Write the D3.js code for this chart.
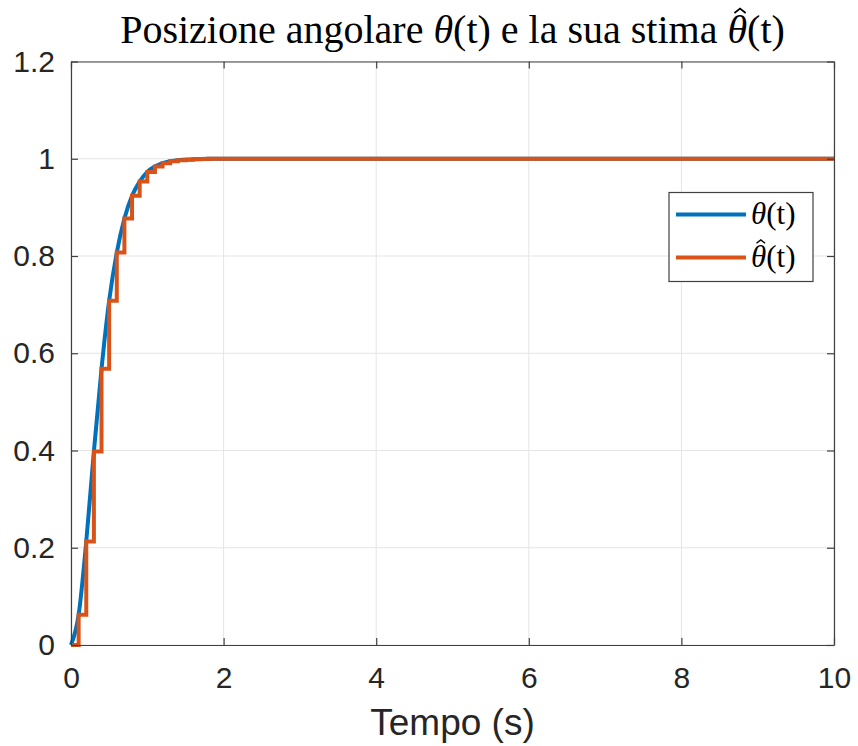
<!DOCTYPE html>
<html>
<head>
<meta charset="utf-8">
<script src="https://cdn.jsdelivr.net/npm/d3@7"></script>
<style>
  html, body { margin: 0; padding: 0; background: #fff; }
  svg { display: block; }
</style>
</head>
<body>
<svg id="chart" width="858" height="746"></svg>
<script>
// ---- data ----
const xTicks = [0, 2, 4, 6, 8, 10];
const yTicks = [0, 0.2, 0.4, 0.6, 0.8, 1, 1.2];
const xTickLabels = ["0", "2", "4", "6", "8", "10"];
const yTickLabels = ["0", "0.2", "0.4", "0.6", "0.8", "1", "1.2"];

// continuous angular position theta(t)
const thetaTime  = [0, 0.1, 0.2, 0.3, 0.4, 0.5, 0.6, 0.7, 0.8, 0.9, 1.0, 1.1, 1.2, 1.3, 1.4, 1.5, 1.6, 1.8, 2.0, 4, 6, 8, 10];
const thetaValue = [0, 0.062, 0.213, 0.398, 0.568, 0.708, 0.807, 0.877, 0.924, 0.953, 0.973, 0.984, 0.991, 0.995, 0.997, 0.998, 0.999, 1.0, 1.0, 1.0, 1.0, 1.0, 1.0];

// sampled estimate theta_hat(t) (zero-order hold, 0.1 s)
const hatTime  = [0, 0.1, 0.2, 0.3, 0.4, 0.5, 0.6, 0.7, 0.8, 0.9, 1.0, 1.1, 1.2, 1.3, 1.4, 1.5, 1.6, 1.7, 1.8, 10];
const hatValue = [0, 0.062, 0.213, 0.398, 0.568, 0.708, 0.807, 0.877, 0.924, 0.953, 0.973, 0.984, 0.991, 0.995, 0.997, 0.998, 0.999, 0.9995, 1.0, 1.0];

const seriesColors = ["#0072BD", "#D95319"];

// ---- layout ----
const svg = d3.select("#chart");
const L = 71, R = 834, T = 61.5, B = 645;
const x = d3.scaleLinear().domain([0, 10]).range([L, R]);
const y = d3.scaleLinear().domain([0, 1.2]).range([B, T]);
const axisColor = "#404040";
const sans = "'Liberation Sans', Arial, Helvetica, sans-serif";
const serif = "'Liberation Serif', 'Times New Roman', serif";

// grid
const grid = svg.append("g");
grid.selectAll("line.gx").data(xTicks).enter().append("line")
  .attr("x1", d => x(d)).attr("x2", d => x(d)).attr("y1", T).attr("y2", B)
  .attr("stroke", "#e5e5e5").attr("stroke-width", 1);
grid.selectAll("line.gy").data(yTicks).enter().append("line")
  .attr("x1", L).attr("x2", R).attr("y1", d => y(d)).attr("y2", d => y(d))
  .attr("stroke", "#e5e5e5").attr("stroke-width", 1);

// lines
const lineTheta = d3.line().x(d => x(d[0])).y(d => y(d[1])).curve(d3.curveMonotoneX);
const lineHat = d3.line().x(d => x(d[0])).y(d => y(d[1])).curve(d3.curveStepAfter);
svg.append("path").datum(d3.zip(thetaTime, thetaValue))
  .attr("d", lineTheta).attr("fill", "none").attr("stroke", seriesColors[0])
  .attr("stroke-width", 4).attr("stroke-linejoin", "round");
svg.append("path").datum(d3.zip(hatTime, hatValue))
  .attr("d", lineHat).attr("fill", "none").attr("stroke", seriesColors[1])
  .attr("stroke-width", 4).attr("stroke-linejoin", "miter");

// axes (box with inside ticks on all four sides)
const tickLen = 7;
const axB = svg.append("g").attr("transform", `translate(0,${B})`)
  .call(d3.axisBottom(x).tickValues(xTicks).tickFormat((d, i) => xTickLabels[i]).tickSizeInner(-tickLen).tickSizeOuter(0).tickPadding(22));
const axT = svg.append("g").attr("transform", `translate(0,${T})`)
  .call(d3.axisTop(x).tickValues(xTicks).tickFormat("").tickSizeInner(-tickLen).tickSizeOuter(0));
const axL = svg.append("g").attr("transform", `translate(${L},0)`)
  .call(d3.axisLeft(y).tickValues(yTicks).tickFormat((d, i) => yTickLabels[i]).tickSizeInner(-tickLen).tickSizeOuter(0).tickPadding(16));
const axR = svg.append("g").attr("transform", `translate(${R},0)`)
  .call(d3.axisRight(y).tickValues(yTicks).tickFormat("").tickSizeInner(-tickLen).tickSizeOuter(0));
[axB, axT, axL, axR].forEach(a => {
  a.select(".domain").attr("stroke", axisColor).attr("stroke-width", 1.2);
  a.selectAll(".tick line").attr("stroke", axisColor).attr("stroke-width", 1.2);
  a.selectAll("text").attr("fill", "#262626").style("font-family", sans).style("font-size", "30px");
});
axB.selectAll("text").attr("dy", "0.71em");

// x label
svg.append("text").attr("x", (L + R) / 2).attr("y", 735).attr("text-anchor", "middle")
  .style("font-family", sans).style("font-size", "37px").attr("fill", "#262626").text("Tempo (s)");

// helper: draw a circumflex accent (as a small path) above a character of a text element
function addHat(textSel, charIndex, size) {
  const node = textSel.node();
  const s = node.getStartPositionOfChar(charIndex);
  const e = node.getEndPositionOfChar(charIndex);
  const cx = (s.x + e.x) / 2 + size * 0.07;
  const top = s.y - size * 0.86;
  const w = size * 0.14, h = size * 0.11;
  d3.select(node.parentNode).append("path")
    .attr("d", `M${cx - w},${top + h} L${cx},${top} L${cx + w},${top + h}`)
    .attr("fill", "none").attr("stroke", "#000").attr("stroke-width", Math.max(1.2, size * 0.045))
    .attr("stroke-linejoin", "miter");
}

// title
const titleSize = 33;
const title = svg.append("text").attr("x", (L + R) / 2).attr("y", 43).attr("text-anchor", "middle")
  .style("font-family", serif).style("font-size", titleSize + "px").attr("fill", "#000");
title.append("tspan").text("Posizione angolare ");
title.append("tspan").style("font-style", "italic").text("\u03B8");
title.append("tspan").text("(t) e la sua stima ");
title.append("tspan").style("font-style", "italic").text("\u03B8");
title.append("tspan").text("(t)");
const tLen = title.node().getComputedTextLength();
const fs = titleSize * 665 / tLen;
title.style("font-size", fs + "px");
const fullTitle = "Posizione angolare \u03B8(t) e la sua stima \u03B8(t)";
addHat(title, fullTitle.lastIndexOf("\u03B8"), fs);

// legend
const lg = svg.append("g");
lg.append("rect").attr("x", 669).attr("y", 192.5).attr("width", 144).attr("height", 89)
  .attr("fill", "#fff").attr("stroke", axisColor).attr("stroke-width", 1.2);
const legendItems = [{c: seriesColors[0], y: 214.5, hat: false}, {c: seriesColors[1], y: 257.5, hat: true}];
legendItems.forEach(it => {
  lg.append("line").attr("x1", 676).attr("x2", 746).attr("y1", it.y).attr("y2", it.y)
    .attr("stroke", it.c).attr("stroke-width", 4);
  const t = lg.append("text").attr("x", 751).attr("y", it.y + 9)
    .style("font-family", serif).style("font-size", "31px").attr("fill", "#000");
  t.append("tspan").style("font-style", "italic").text("\u03B8");
  t.append("tspan").text("(t)");
  if (it.hat) addHat(t, 0, 31);
});
</script>
</body>
</html>
